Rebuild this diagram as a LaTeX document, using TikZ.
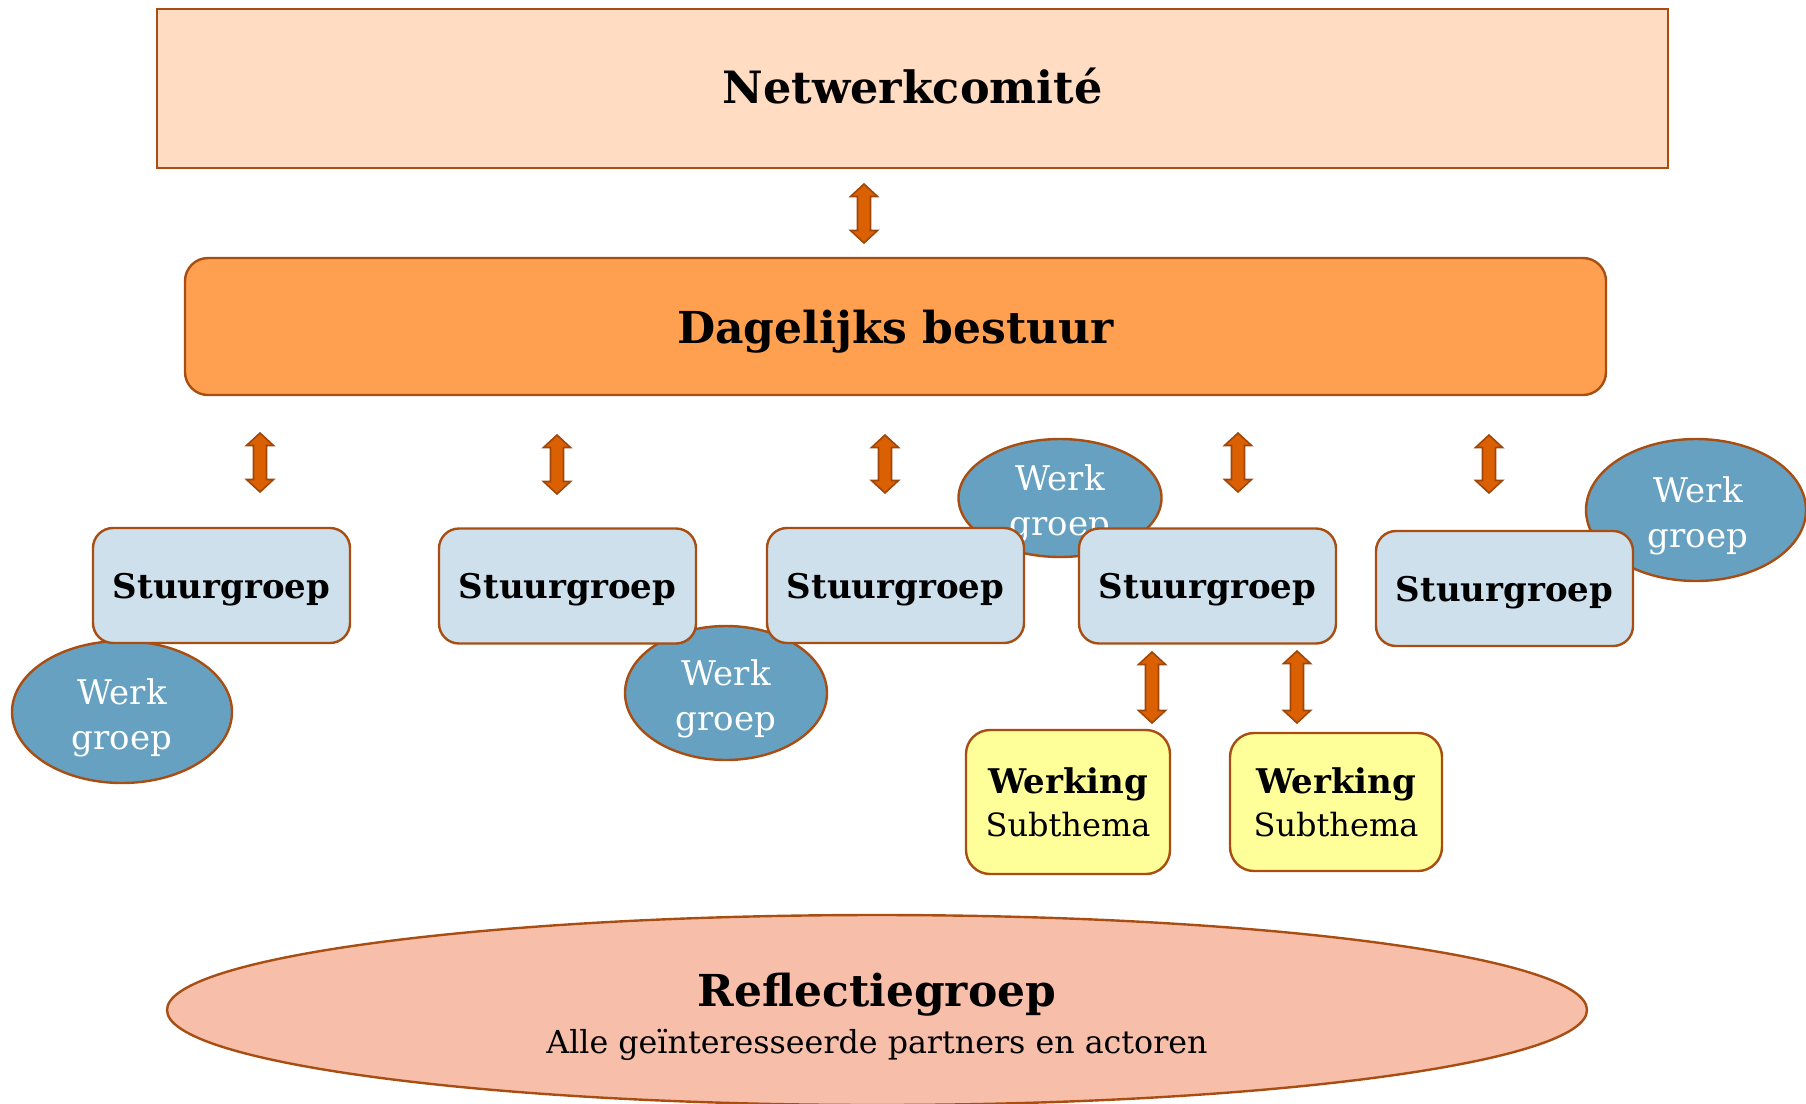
\documentclass[tikz,border=0pt]{standalone}
\usepackage{fontspec}
\setmainfont{DejaVu Serif}
\usetikzlibrary{shapes.geometric}
\definecolor{bord}{RGB}{168,78,18}
\definecolor{netwfill}{RGB}{255,220,194}
\definecolor{dbfill}{RGB}{255,159,80}
\definecolor{stfill}{RGB}{206,224,236}
\definecolor{wgfill}{RGB}{102,161,193}
\definecolor{wkfill}{RGB}{255,255,153}
\definecolor{rgfill}{RGB}{247,190,170}
\definecolor{arrfill}{RGB}{218,96,2}
\definecolor{arrbord}{RGB}{160,70,10}
\newcommand\blockarrow[3]{%
  \draw[arrowsty] (#1-6.5,#2+12.5) -- (#1-13.5,#2+12.5) -- (#1,#2) -- (#1+13.5,#2+12.5) -- (#1+6.5,#2+12.5)
    -- (#1+6.5,#3-12.5) -- (#1+13.5,#3-12.5) -- (#1,#3) -- (#1-13.5,#3-12.5) -- (#1-6.5,#3-12.5) -- cycle;}
\tikzset{
  boxbase/.style={draw=bord, line width=2.4pt, inner sep=0pt, align=center},
  netw/.style={boxbase, fill=netwfill, font=\fontsize{44.5}{52}\selectfont\bfseries, text depth=5pt},
  dagb/.style={boxbase, fill=dbfill, rounded corners=23pt, font=\fontsize{44}{52}\selectfont\bfseries, text depth=0pt},
  stuur/.style={boxbase, fill=stfill, rounded corners=20pt, minimum width=257pt, minimum height=115pt, font=\fontsize{34}{40}\selectfont\bfseries, text depth=0pt},
  werkg/.style={boxbase, ellipse, fill=wgfill},
  wgtext/.style={inner sep=0pt, align=center, text=white, font=\fontsize{34}{45}\selectfont},
  werking/.style={boxbase, fill=wkfill, rounded corners=24pt, font=\fontsize{32}{43}\selectfont},
  reflect/.style={boxbase, ellipse, fill=rgfill},
  txt/.style={inner sep=0pt, align=center},
  arrowsty/.style={fill=arrfill, draw=arrbord, line width=1.6pt, line join=miter},
}
\begin{document}
\begin{tikzpicture}[x=1pt,y=-1pt]
\useasboundingbox (0,0) rectangle (1806,1103);
\clip (0,0) rectangle (1806,1103);

% top boxes
\node[netw, minimum width=1511pt, minimum height=159pt] (nc) at (912.5,88.5) {Netwerkcomité};
\node[dagb, minimum width=1421pt, minimum height=137pt] (db) at (895.5,326.5) {Dagelijks bestuur};

% werkgroep ellipses (behind boxes)
\node[werkg, minimum width=220pt, minimum height=142pt] (w1) at (122,712) {};
\node[wgtext] (w1t) at (122,718) {Werk\\groep};
\node[werkg, minimum width=202pt, minimum height=134pt] (w2) at (726,693) {};
\node[wgtext] (w2t) at (726,699) {Werk\\groep};
\node[werkg, minimum width=203pt, minimum height=118pt] (w3) at (1060,498) {};
\node[wgtext] (w3t) at (1060,504) {Werk\\groep};
\node[werkg, minimum width=220pt, minimum height=142pt] (w4) at (1696,510) {};
\node[wgtext] (w4t) at (1698,516) {Werk\\groep};

% stuurgroepen
\node[stuur] (s1) at (221.5,585.5) {Stuurgroep};
\node[stuur] (s2) at (567.5,586) {Stuurgroep};
\node[stuur] (s3) at (895.5,585.5) {Stuurgroep};
\node[stuur] (s4) at (1207.5,586) {Stuurgroep};
\node[stuur] (s5) at (1504.5,588.5) {Stuurgroep};

% werking subthema
\node[werking, minimum width=204pt, minimum height=144pt] (k1) at (1068,802) {{\fontsize{34}{43}\selectfont\bfseries Werking}\\Subthema};
\node[werking, minimum width=212pt, minimum height=138pt] (k2) at (1336,802) {{\fontsize{34}{43}\selectfont\bfseries Werking}\\Subthema};

% reflectiegroep
\node[reflect, minimum width=1420pt, minimum height=190pt] (rg) at (877,1010) {};
\node[txt, anchor=base, font=\fontsize{44}{52}\selectfont\bfseries] (rgt) at (877,1006) {Reflectiegroep};
\node[txt, anchor=base, font=\fontsize{31.7}{40}\selectfont] (rgs) at (877,1053) {Alle geïnteresseerde partners en actoren};

% block arrows
\blockarrow{864}{184}{243}
\blockarrow{260}{433}{492}
\blockarrow{557}{435}{494}
\blockarrow{885}{435}{493}
\blockarrow{1238}{433}{492}
\blockarrow{1489}{435}{493}
\blockarrow{1152}{652}{723}
\blockarrow{1297}{651}{723}
\end{tikzpicture}
\end{document}
